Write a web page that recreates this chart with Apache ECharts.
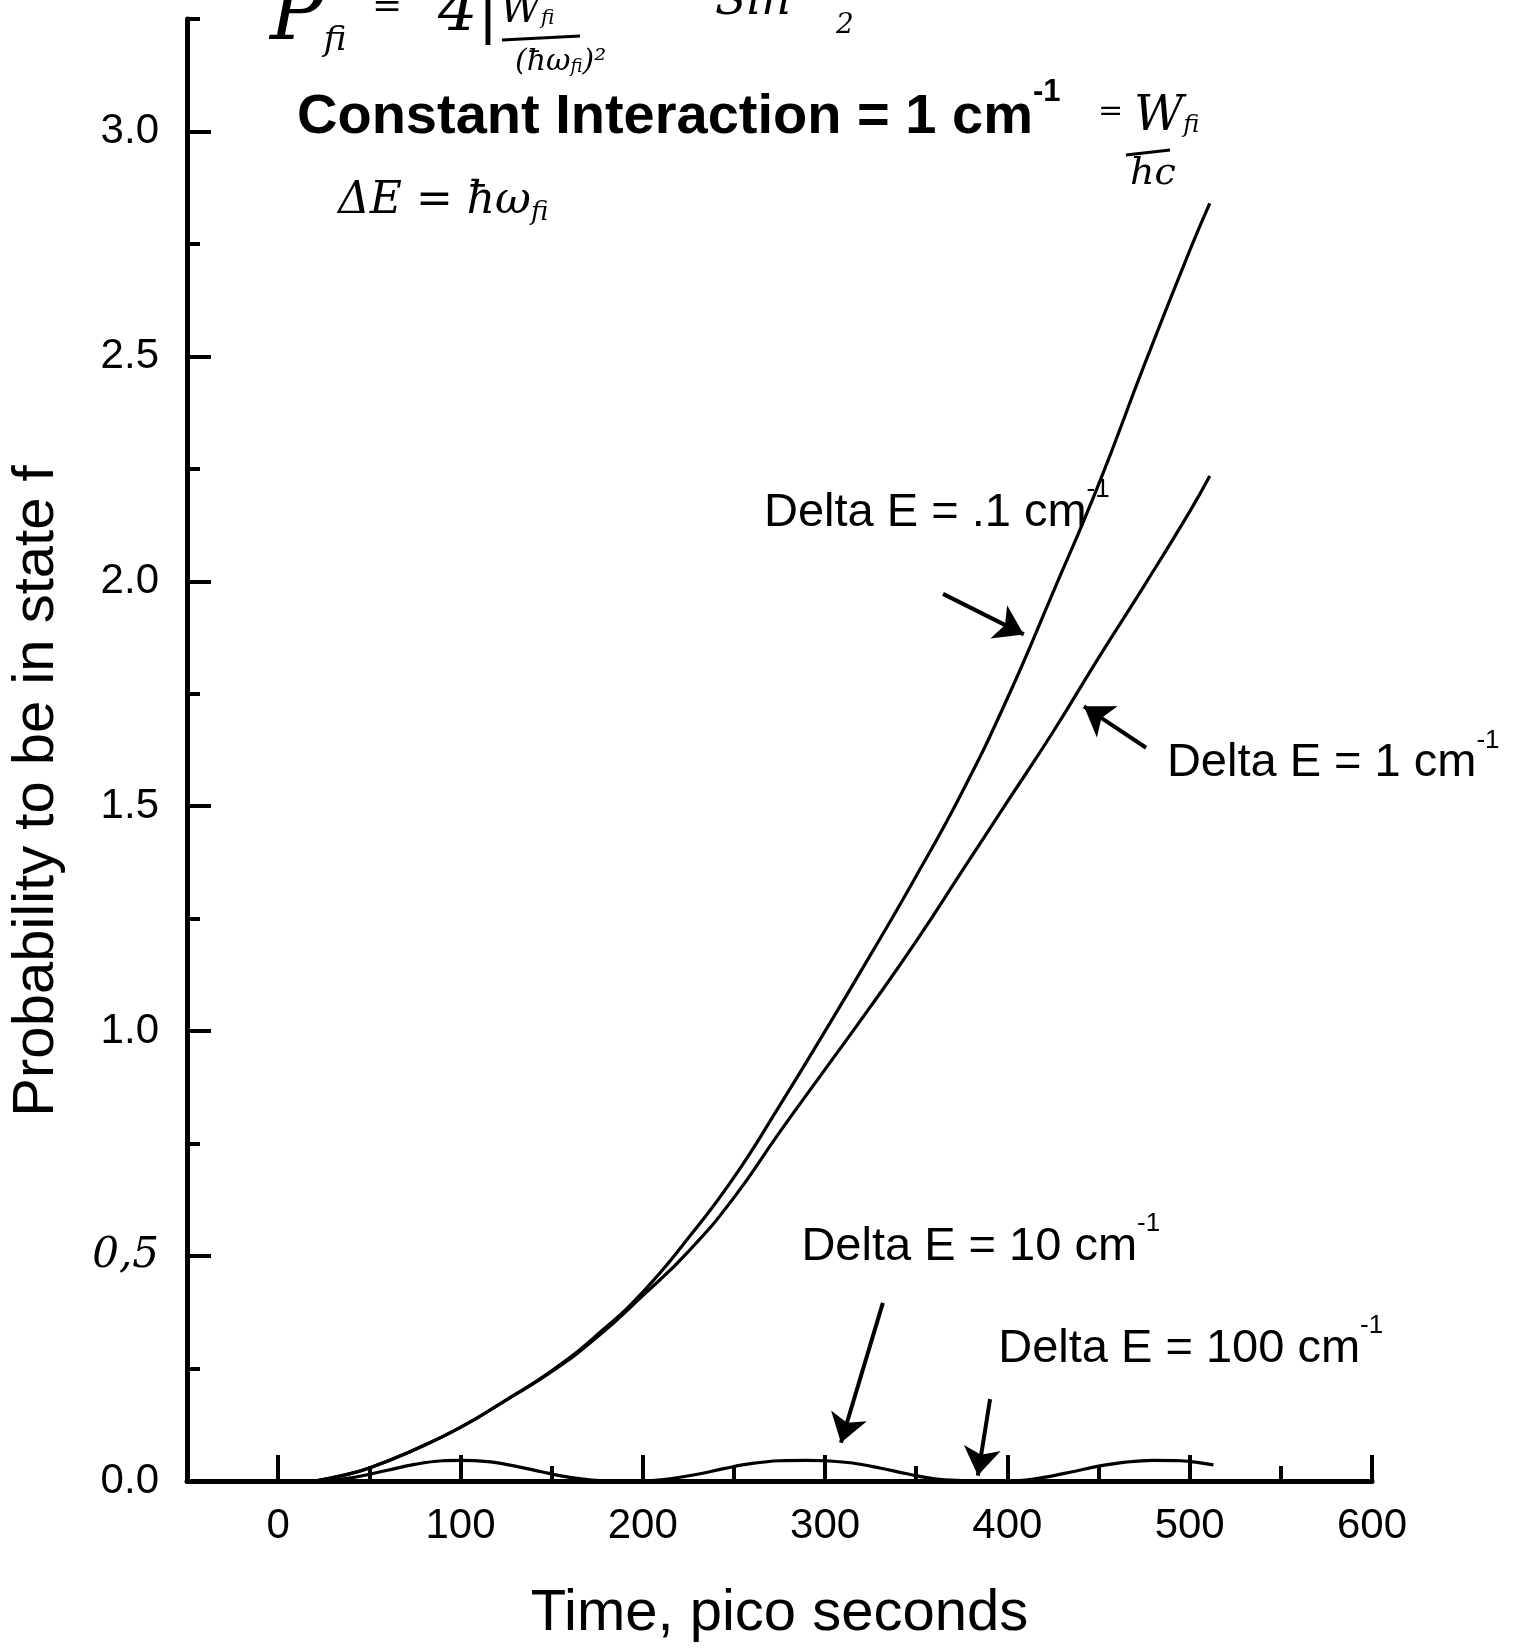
<!DOCTYPE html>
<html><head><meta charset="utf-8">
<script src="https://cdn.jsdelivr.net/npm/echarts@6/dist/echarts.min.js"></script>
<style>html,body{margin:0;padding:0;background:#fff}#c{width:1518px;height:1648px}</style>
</head><body><div id="c"></div>
<script>
// ---- tick values / labels ----
const xMajorTicks = [0, 100, 200, 300, 400, 500, 600];
const xMinorTicks = [50, 150, 250, 350, 450, 550];
const yMajorTicks = [0, 0.5, 1.0, 1.5, 2.0, 2.5, 3.0];
const yMinorTicks = [0.25, 0.75, 1.25, 1.75, 2.25, 2.75, 3.25];
const yTickLabels = ['0.0', '0,5', '1.0', '1.5', '2.0', '2.5', '3.0'];

// ---- series data (time in ps, probability) ----
const timeA = [20, 35, 50, 75, 100, 125, 150, 175, 200, 225, 250, 275, 300, 325, 350, 375, 400, 425, 450, 475, 500, 511];
const probA = [0, 0.012, 0.029, 0.070, 0.119, 0.180, 0.245, 0.325, 0.420, 0.540, 0.675, 0.834, 1.000, 1.170, 1.345, 1.530, 1.740, 1.975, 2.215, 2.480, 2.735, 2.840];

const timeB = [20, 35, 50, 75, 100, 125, 150, 175, 200, 225, 250, 275, 300, 325, 350, 375, 400, 425, 450, 475, 500, 511];
const probB = [0, 0.012, 0.029, 0.070, 0.119, 0.180, 0.243, 0.320, 0.412, 0.510, 0.630, 0.775, 0.915, 1.055, 1.200, 1.355, 1.510, 1.665, 1.830, 1.990, 2.155, 2.234];

const timeC = [21, 30, 40, 50, 60, 75, 90, 100, 115, 130, 145, 160, 172, 185, 195, 205, 215, 230, 245, 260, 275, 290, 300, 315, 330, 345, 360, 375, 390, 400, 410, 420, 435, 450, 465, 480, 495, 505, 513];
const probC = [0, 0.002, 0.007, 0.015, 0.024, 0.037, 0.045, 0.046, 0.043, 0.033, 0.020, 0.008, 0.002, 0, 0, 0.001, 0.005, 0.015, 0.028, 0.039, 0.045, 0.046, 0.045, 0.040, 0.029, 0.016, 0.005, 0.001, 0, 0, 0.002, 0.008, 0.020, 0.033, 0.042, 0.046, 0.045, 0.041, 0.036];

const timeD = [20, 100, 200, 300, 400, 512];
const probD = [0, 0, 0, 0, 0, 0];

const seriesNames = ['Delta E = .1 cm-1', 'Delta E = 1 cm-1', 'Delta E = 10 cm-1', 'Delta E = 100 cm-1'];

// ---- annotation texts and arrows (data coordinates) ----
const labelTexts = ['Delta E = .1 cm{sup|-1}', 'Delta E = 1 cm{sup|-1}', 'Delta E = 10 cm{sup|-1}', 'Delta E = 100 cm{sup|-1}'];
const labelAnchors = [[266.5, 2.152], [487.5, 1.595], [287, 0.52], [395, 0.293]];
const arrowStarts = [[364.7, 1.972], [476.1, 1.630], [331.7, 0.396], [390.5, 0.182]];
const arrowEnds = [[409.0, 1.882], [442.0, 1.722], [308.7, 0.085], [383.8, 0.012]];

const zip = (xs, ys) => xs.map((x, i) => [x, ys[i]]);
const FONT = '"Liberation Sans", Arial, Helvetica, sans-serif';
const HAND = '"DejaVu Serif", "Liberation Serif", serif';

const chart = echarts.init(document.getElementById('c'), null, {renderer: 'canvas'});

const option = {
  backgroundColor: '#ffffff',
  animation: false,
  grid: {left: 187, right: 146, top: 19, bottom: 166, containLabel: false},
  xAxis: [
    {
      type: 'value', min: -50, max: 600, splitLine: {show: false},
      name: 'Time, pico seconds', nameLocation: 'middle', nameGap: 104,
      nameTextStyle: {fontFamily: FONT, fontSize: 58, color: '#000'},
      axisLine: {show: true, onZero: false, lineStyle: {color: '#000', width: 5}},
      axisTick: {show: true, inside: true, length: 26, customValues: xMajorTicks, lineStyle: {color: '#000', width: 4}},
      axisLabel: {show: true, customValues: xMajorTicks, margin: 24, fontFamily: FONT, fontSize: 42, color: '#000'}
    },
    {
      type: 'value', min: -50, max: 600, gridIndex: 0, position: 'bottom', splitLine: {show: false},
      axisLine: {show: false, onZero: false},
      axisTick: {show: true, inside: true, length: 15, customValues: xMinorTicks, lineStyle: {color: '#000', width: 4}},
      axisLabel: {show: false}
    }
  ],
  yAxis: [
    {
      type: 'value', min: 0, max: 3.25, splitLine: {show: false},
      axisLine: {show: true, onZero: false, lineStyle: {color: '#000', width: 5}},
      axisTick: {show: true, inside: true, length: 24, customValues: yMajorTicks, lineStyle: {color: '#000', width: 4}},
      axisLabel: {
        show: true, customValues: yMajorTicks, margin: 28, fontFamily: FONT, fontSize: 42, color: '#000',
        formatter: function (v) {
          const i = yMajorTicks.findIndex(t => Math.abs(t - v) < 1e-6);
          const s = i >= 0 ? yTickLabels[i] : '';
          return s === '0,5' ? '{h|' + s + '}' : s;
        },
        rich: {h: {fontFamily: HAND, fontStyle: 'italic', fontSize: 42, color: '#000'}}
      }
    },
    {
      type: 'value', min: 0, max: 3.25, gridIndex: 0, position: 'left', splitLine: {show: false},
      axisLine: {show: false, onZero: false},
      axisTick: {show: true, inside: true, length: 13, customValues: yMinorTicks, lineStyle: {color: '#000', width: 4}},
      axisLabel: {show: false}
    }
  ],
  series: [
    {name: seriesNames[0], type: 'line', data: zip(timeA, probA), smooth: true, showSymbol: false, lineStyle: {color: '#000', width: 3.2}, z: 3},
    {name: seriesNames[1], type: 'line', data: zip(timeB, probB), smooth: true, showSymbol: false, lineStyle: {color: '#000', width: 3.2}, z: 3},
    {name: seriesNames[2], type: 'line', data: zip(timeC, probC), smooth: 0.4, showSymbol: false, lineStyle: {color: '#000', width: 3.2}, z: 3},
    {name: seriesNames[3], type: 'line', data: zip(timeD, probD), showSymbol: false, lineStyle: {color: '#000', width: 3}, z: 3,
      markLine: {
        silent: true, symbol: ['none', 'arrow'], symbolSize: 28,
        lineStyle: {color: '#000', width: 4, type: 'solid'},
        label: {show: false},
        data: arrowStarts.map((s, i) => [{coord: s}, {coord: arrowEnds[i]}])
      },
      markPoint: {
        silent: true, symbol: 'circle', symbolSize: 0,
        data: labelAnchors.map((c, i) => ({
          coord: c,
          label: {
            show: true, position: [0, 0], align: 'left', verticalAlign: 'middle',
            formatter: labelTexts[i], fontFamily: FONT, fontSize: 47, color: '#000', lineHeight: 72,
            rich: {sup: {fontFamily: FONT, fontSize: 26, lineHeight: 26, verticalAlign: 'top', color: '#000'}}
          }
        }))
      }
    }
  ],
  graphic: [
    {type: 'text', x: 37, y: 791, rotation: Math.PI / 2, style: {
      text: 'Probability to be in state f', fontFamily: FONT, fontSize: 58, fill: '#000', align: 'center', verticalAlign: 'middle'
    }},
    {type: 'text', x: 297, y: 118, style: {
      text: 'Constant Interaction = 1 cm{sup|-1}', fontFamily: FONT, fontWeight: 'bold', fontSize: 56,
      fill: '#000', verticalAlign: 'middle', lineHeight: 82,
      rich: {sup: {fontFamily: FONT, fontWeight: 'bold', fontSize: 31, lineHeight: 31, verticalAlign: 'top', fill: '#000'}}
    }},
    // handwritten notes
    {type: 'text', x: 338, y: 202, style: {
      text: 'ΔE = ħω{s|fi}', fontFamily: HAND, fontStyle: 'italic', fontSize: 44, fill: '#000', verticalAlign: 'middle',
      rich: {s: {fontFamily: HAND, fontStyle: 'italic', fontSize: 26, padding: [22, 0, 0, 0], fill: '#000'}}
    }},
    {type: 'text', x: 1098, y: 112, style: {text: '=', fontFamily: HAND, fontSize: 30, fill: '#000', verticalAlign: 'middle'}},
    {type: 'text', x: 1134, y: 118, style: {
      text: 'W{s|fi}', fontFamily: HAND, fontStyle: 'italic', fontSize: 48, fill: '#000', verticalAlign: 'middle',
      rich: {s: {fontFamily: HAND, fontStyle: 'italic', fontSize: 24, padding: [16, 0, 0, 0], fill: '#000'}}
    }},
    {type: 'line', shape: {x1: 1126, y1: 155, x2: 1170, y2: 150}, style: {stroke: '#000', lineWidth: 3}},
    {type: 'text', x: 1130, y: 174, style: {text: 'hc', fontFamily: HAND, fontStyle: 'italic', fontSize: 38, fill: '#000', verticalAlign: 'middle'}},
    // top formula (cut off at the page top)
    {type: 'text', x: 270, y: 18, style: {
      text: 'P{s|fi}', fontFamily: HAND, fontStyle: 'italic', fontSize: 80, fill: '#000', verticalAlign: 'middle',
      rich: {s: {fontFamily: HAND, fontStyle: 'italic', fontSize: 34, padding: [46, 0, 0, 0], fill: '#000'}}
    }},
    {type: 'text', x: 372, y: 8, style: {text: '=', fontFamily: HAND, fontSize: 36, fill: '#000', verticalAlign: 'middle'}},
    {type: 'text', x: 438, y: 14, style: {text: '4|', fontFamily: HAND, fontStyle: 'italic', fontSize: 62, fill: '#000', verticalAlign: 'middle'}},
    {type: 'text', x: 500, y: 12, style: {
      text: 'W{s|fi}', fontFamily: HAND, fontStyle: 'italic', fontSize: 40, fill: '#000', verticalAlign: 'middle',
      rich: {s: {fontFamily: HAND, fontStyle: 'italic', fontSize: 20, padding: [14, 0, 0, 0], fill: '#000'}}
    }},
    {type: 'line', shape: {x1: 502, y1: 40, x2: 580, y2: 36}, style: {stroke: '#000', lineWidth: 3}},
    {type: 'text', x: 515, y: 62, style: {
      text: '(ħω{s|fi})²', fontFamily: HAND, fontStyle: 'italic', fontSize: 30, fill: '#000', verticalAlign: 'middle',
      rich: {s: {fontFamily: HAND, fontStyle: 'italic', fontSize: 18, padding: [10, 0, 0, 0], fill: '#000'}}
    }},
    {type: 'text', x: 715, y: 2, style: {text: 'Sin²', fontFamily: HAND, fontStyle: 'italic', fontSize: 46, fill: '#000', verticalAlign: 'middle'}},
    {type: 'text', x: 836, y: 26, style: {text: '2', fontFamily: HAND, fontStyle: 'italic', fontSize: 28, fill: '#000', verticalAlign: 'middle'}}
  ]
};
chart.setOption(option);
</script>
</body></html>
